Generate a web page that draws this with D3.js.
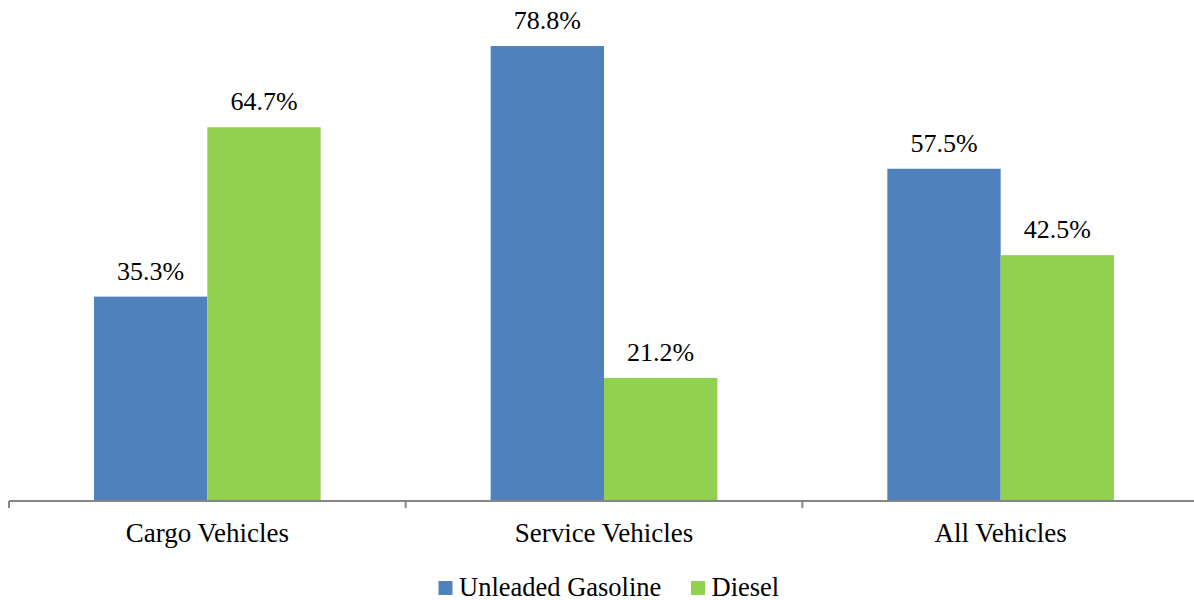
<!DOCTYPE html>
<html>
<head>
<meta charset="utf-8">
<script src="https://cdn.jsdelivr.net/npm/d3@7"></script>
<style>
  html, body { margin: 0; padding: 0; background: #fff; }
  svg { display: block; }
</style>
</head>
<body>
<svg id="chart" width="1194" height="600"></svg>
<script>
// Share of vehicles by fuel type (%)
const categories = ["Cargo Vehicles", "Service Vehicles", "All Vehicles"];
const seriesNames = ["Unleaded Gasoline", "Diesel"];
const gasoline = [35.3, 78.8, 57.5];
const diesel = [64.7, 21.2, 42.5];
const seriesColors = ["#4F81BD", "#92D050"];

const values = [gasoline, diesel];
const svg = d3.select("#chart");
const FONT = "'Liberation Serif'";

const baseY = 500;
const x = d3.scaleBand().domain(categories).range([9, 1199]).paddingInner(0).paddingOuter(0);
const xSub = d3.scaleBand().domain(seriesNames).range([0, x.bandwidth()]).paddingInner(0).paddingOuter(0.75);
const y = d3.scaleLinear().domain([0, 100]).range([baseY, baseY - 576.1]);

// Bars with value labels
seriesNames.forEach((name, si) => {
  const rows = categories.map((c, ci) => ({ c, v: values[si][ci] }));
  const g = svg.append("g");
  g.selectAll("rect")
    .data(rows)
    .join("rect")
    .attr("x", d => x(d.c) + xSub(name))
    .attr("y", d => y(d.v))
    .attr("width", xSub.bandwidth())
    .attr("height", d => y(0) - y(d.v))
    .attr("fill", seriesColors[si]);

  g.selectAll("text")
    .data(rows)
    .join("text")
    .attr("x", d => x(d.c) + xSub(name) + xSub.bandwidth() / 2)
    .attr("y", d => y(d.v) - 17)
    .attr("text-anchor", "middle")
    .attr("font-family", FONT)
    .attr("font-size", 26)
    .attr("fill", "#000")
    .text(d => d.v.toFixed(1) + "%");
});

// Category axis
const axisG = svg.append("g");
axisG.append("line")
  .attr("x1", x.range()[0]).attr("x2", x.range()[1])
  .attr("y1", baseY + 1).attr("y2", baseY + 1)
  .attr("stroke", "#868686").attr("stroke-width", 2);
const boundaries = categories.map(c => x(c)).concat([x.range()[1]]);
axisG.selectAll("line.tick")
  .data(boundaries)
  .join("line")
  .attr("class", "tick")
  .attr("x1", d => d).attr("x2", d => d)
  .attr("y1", baseY + 1).attr("y2", baseY + 8)
  .attr("stroke", "#868686").attr("stroke-width", 2);
axisG.selectAll("text")
  .data(categories)
  .join("text")
  .attr("x", d => x(d) + x.bandwidth() / 2)
  .attr("y", 541.5)
  .attr("text-anchor", "middle")
  .attr("font-family", FONT)
  .attr("font-size", 27)
  .attr("fill", "#000")
  .text(d => d);

// Legend
const legendItems = [
  { name: seriesNames[0], color: seriesColors[0], x: 438.5 },
  { name: seriesNames[1], color: seriesColors[1], x: 691 }
];
const legend = svg.append("g");
legendItems.forEach(item => {
  legend.append("rect")
    .attr("x", item.x).attr("y", 581)
    .attr("width", 14).attr("height", 14)
    .attr("fill", item.color);
  legend.append("text")
    .attr("x", item.x + 20.5)
    .attr("y", 595.5)
    .attr("font-family", FONT)
    .attr("font-size", 26.5)
    .attr("fill", "#000")
    .text(item.name);
});
</script>
</body>
</html>
